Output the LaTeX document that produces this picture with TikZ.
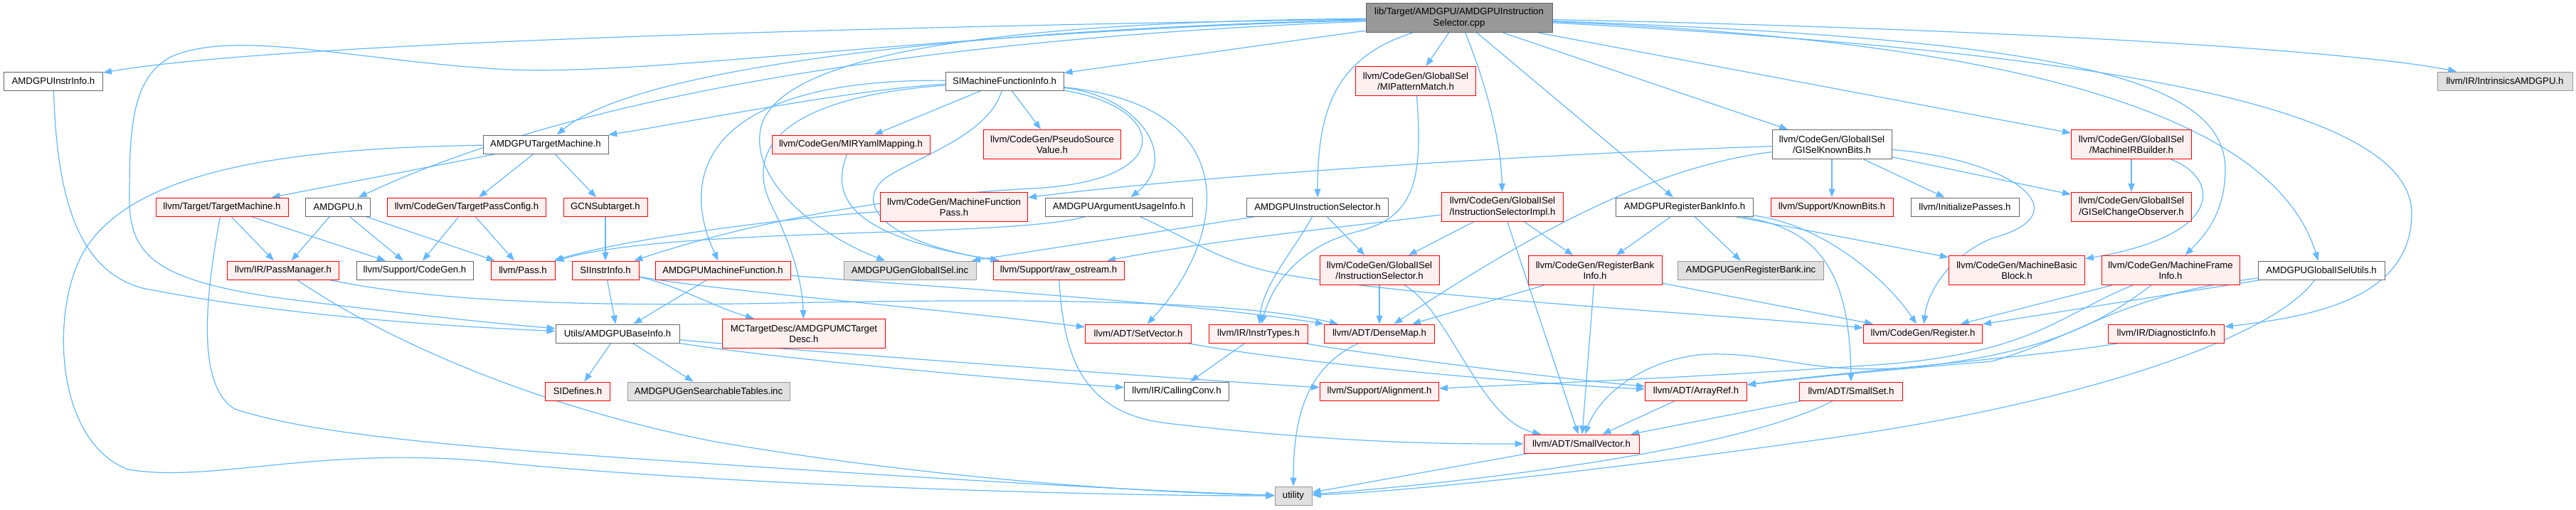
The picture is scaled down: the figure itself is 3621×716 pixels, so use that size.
\documentclass[tikz,border=0pt]{standalone}
\usepackage{fontspec}
\setmainfont{Liberation Sans}
\usetikzlibrary{arrows.meta}
\definecolor{incblue}{HTML}{63B8FF}
\definecolor{truncfill}{HTML}{FFF0F0}
\definecolor{darkline}{HTML}{666666}
\definecolor{sysline}{HTML}{999999}
\definecolor{sysfill}{HTML}{E0E0E0}
\definecolor{srcfill}{HTML}{999999}
\pgfdeclarelayer{links}
\pgfsetlayers{links,main}
\begin{document}
\begin{tikzpicture}[x=1pt,y=-1pt,
  filebox/.style={draw, line width=1pt, inner sep=2pt, minimum height=26,
    align=center, font=\fontsize{13.2}{15.2}\selectfont},
  whitebox/.style={filebox, draw=darkline, fill=white},
  redbox/.style={filebox, draw=red, fill=truncfill},
  sysbox/.style={filebox, draw=sysline, fill=sysfill},
  srcbox/.style={filebox, draw=darkline, fill=srcfill},
  twoline/.style={minimum height=41},
  incl/.style={draw=incblue, line width=1.2pt, -{Triangle[length=12pt,width=9pt]}}]%
% include graph, one px of the reference = 1pt
\global\def\depdraw{\draw[incl]}
\useasboundingbox (0,0) rectangle (3621,716);
\node[srcbox, twoline, minimum width=262] (root) at (2051,25) {lib/Target/AMDGPU/AMDGPUInstruction\\Selector.cpp};
\node[whitebox, minimum width=139] (instrinfo) at (75,114) {AMDGPUInstrInfo.h};
\node[whitebox, minimum width=166] (simfi) at (1412,114) {SIMachineFunctionInfo.h};
\node[redbox, twoline, minimum width=169] (mipat) at (1990,114) {llvm/CodeGen/GlobalISel\\/MIPatternMatch.h};
\node[sysbox, minimum width=190] (intrin) at (3521,114) {llvm/IR/IntrinsicsAMDGPU.h};
\node[whitebox, minimum width=176] (tm) at (767,203) {AMDGPUTargetMachine.h};
\node[redbox, minimum width=222] (miryaml) at (1196,203) {llvm/CodeGen/MIRYamlMapping.h};
\node[redbox, twoline, minimum width=193] (pseudo) at (1479,203) {llvm/CodeGen/PseudoSource\\Value.h};
\node[whitebox, twoline, minimum width=168] (gkb) at (2575,203) {llvm/CodeGen/GlobalISel\\/GISelKnownBits.h};
\node[redbox, twoline, minimum width=169] (mirb) at (2996,203) {llvm/CodeGen/GlobalISel\\/MachineIRBuilder.h};
\node[redbox, minimum width=186] (ttm) at (312,291) {llvm/Target/TargetMachine.h};
\node[whitebox, minimum width=91] (amdgpu) at (475,291) {AMDGPU.h};
\node[redbox, minimum width=223] (tpc) at (656,291) {llvm/CodeGen/TargetPassConfig.h};
\node[redbox, minimum width=118] (gcn) at (851,291) {GCNSubtarget.h};
\node[redbox, twoline, minimum width=207] (mfp) at (1341,291) {llvm/CodeGen/MachineFunction\\Pass.h};
\node[whitebox, minimum width=207] (argusage) at (1573,291) {AMDGPUArgumentUsageInfo.h};
\node[whitebox, minimum width=199] (isel) at (1852,291) {AMDGPUInstructionSelector.h};
\node[redbox, twoline, minimum width=171] (iselimpl) at (2112,291) {llvm/CodeGen/GlobalISel\\/InstructionSelectorImpl.h};
\node[whitebox, minimum width=193] (rbi) at (2368,291) {AMDGPURegisterBankInfo.h};
\node[redbox, minimum width=172] (knownbits) at (2575,291) {llvm/Support/KnownBits.h};
\node[whitebox, minimum width=152] (initpasses) at (2762,291) {llvm/InitializePasses.h};
\node[redbox, twoline, minimum width=169] (gco) at (2996,291) {llvm/CodeGen/GlobalISel\\/GISelChangeObserver.h};
\node[redbox, minimum width=157] (passmgr) at (398,380) {llvm/IR/PassManager.h};
\node[whitebox, minimum width=164] (cgen) at (583,380) {llvm/Support/CodeGen.h};
\node[redbox, minimum width=90] (pass) at (735,380) {llvm/Pass.h};
\node[redbox, minimum width=94] (siinstr) at (851,380) {SIInstrInfo.h};
\node[redbox, minimum width=190] (mfunc) at (1016,380) {AMDGPUMachineFunction.h};
\node[sysbox, minimum width=186] (genglobal) at (1279,380) {AMDGPUGenGlobalISel.inc};
\node[redbox, minimum width=184] (rawos) at (1488,380) {llvm/Support/raw\_ostream.h};
\node[redbox, twoline, minimum width=168] (gisel) at (1939,380) {llvm/CodeGen/GlobalISel\\/InstructionSelector.h};
\node[redbox, twoline, minimum width=188] (cgrbi) at (2242,380) {llvm/CodeGen/RegisterBank\\Info.h};
\node[sysbox, minimum width=205] (genrb) at (2461,380) {AMDGPUGenRegisterBank.inc};
\node[redbox, twoline, minimum width=191] (mbb) at (2835,380) {llvm/CodeGen/MachineBasic\\Block.h};
\node[redbox, twoline, minimum width=194] (mfi) at (3051,380) {llvm/CodeGen/MachineFrame\\Info.h};
\node[whitebox, minimum width=178] (gutils) at (3263,380) {AMDGPUGlobalISelUtils.h};
\node[whitebox, minimum width=174] (baseinfo) at (868,469) {Utils/AMDGPUBaseInfo.h};
\node[redbox, twoline, minimum width=229] (mctd) at (1130,469) {MCTargetDesc/AMDGPUMCTarget\\Desc.h};
\node[redbox, minimum width=149] (setvec) at (1600,469) {llvm/ADT/SetVector.h};
\node[redbox, minimum width=139] (instrtypes) at (1769,469) {llvm/IR/InstrTypes.h};
\node[redbox, minimum width=155] (densemap) at (1939,469) {llvm/ADT/DenseMap.h};
\node[redbox, minimum width=167] (register) at (2703,469) {llvm/CodeGen/Register.h};
\node[redbox, minimum width=163] (diag) at (3045,469) {llvm/IR/DiagnosticInfo.h};
\node[redbox, minimum width=91] (sidefines) at (812,550) {SIDefines.h};
\node[sysbox, minimum width=228] (searchable) at (996,550) {AMDGPUGenSearchableTables.inc};
\node[whitebox, minimum width=147] (callconv) at (1654,550) {llvm/IR/CallingConv.h};
\node[redbox, minimum width=167] (align) at (1939,550) {llvm/Support/Alignment.h};
\node[redbox, minimum width=143] (arrayref) at (2384,550) {llvm/ADT/ArrayRef.h};
\node[redbox, minimum width=145] (smallset) at (2602,550) {llvm/ADT/SmallSet.h};
\node[redbox, minimum width=162] (smallvec) at (2223,624) {llvm/ADT/SmallVector.h};
\node[sysbox, minimum width=52] (utility) at (1818,697) {utility};
\begin{pgfonlayer}{links}
\depdraw (root) .. controls (1400,35) and (420,55) .. (instrinfo);
\depdraw (root) .. controls (1300,45) and (900,110) .. (700,97) .. controls (500,85) and (330,40) .. (240,80) .. controls (185,110) and (182,180) .. (182,280) .. controls (182,360) and (220,395) .. (400,420) .. controls (600,445) and (700,455) .. (baseinfo);
\depdraw (root) .. controls (1400,40) and (900,90) .. (tm);
\depdraw (root) .. controls (1400,50) and (850,115) .. (amdgpu);
\depdraw (root) -- (simfi);
\depdraw (root) -- (mipat);
\depdraw (root) .. controls (1880,80) and (1852,150) .. (isel);
\depdraw (root) .. controls (2090,120) and (2110,200) .. (iselimpl);
\depdraw (root) -- (rbi);
\depdraw (root) -- (gkb);
\depdraw (root) -- (mirb);
\depdraw (root) .. controls (2800,40) and (3300,70) .. (intrin);
\depdraw (root) .. controls (2900,55) and (3130,110) .. (3128,240) .. controls (3127,300) and (3100,330) .. (mfi);
\depdraw (root) .. controls (2900,60) and (3200,180) .. (gutils);
\depdraw (root) .. controls (2900,70) and (3390,140) .. (3390,300) .. controls (3390,420) and (3250,445) .. (diag);
\depdraw (root) .. controls (1500,30) and (1075,60) .. (1068,190) .. controls (1062,260) and (1150,330) .. (genglobal);
\depdraw (instrinfo) .. controls (80,280) and (110,380) .. (200,405) .. controls (400,445) and (650,460) .. (baseinfo);
\depdraw (simfi) .. controls (1200,125) and (950,175) .. (tm);
\depdraw (simfi) .. controls (1000,110) and (950,240) .. (mfunc);
\depdraw (simfi) .. controls (1120,135) and (1040,200) .. (1085,290) .. controls (1115,350) and (1128,400) .. (mctd);
\depdraw (simfi) -- (miryaml);
\depdraw (simfi) -- (pseudo);
\depdraw (simfi) .. controls (1390,190) and (1290,220) .. (1245,250) .. controls (1200,285) and (1240,340) .. (rawos);
\depdraw (simfi) .. controls (1640,150) and (1660,255) .. (1450,265) .. controls (1200,278) and (1000,330) .. (siinstr);
\depdraw (simfi) .. controls (1600,135) and (1660,220) .. (argusage);
\depdraw (simfi) .. controls (1760,150) and (1720,340) .. (setvec);
\depdraw (tm) -- (ttm);
\depdraw (tm) -- (tpc);
\depdraw (tm) -- (gcn);
\depdraw (tm) .. controls (400,208) and (190,240) .. (120,350) .. controls (70,430) and (75,620) .. (180,660) .. controls (300,680) and (450,625) .. (700,650) .. controls (1000,680) and (1500,697) .. (utility);
\depdraw (miryaml) .. controls (1170,270) and (1180,330) .. (rawos);
\depdraw (ttm) -- (passmgr);
\depdraw (ttm) -- (cgen);
\depdraw (ttm) .. controls (292,400) and (272,540) .. (330,575) .. controls (450,615) and (700,632) .. (1000,652) .. controls (1300,672) and (1600,690) .. (utility);
\depdraw (amdgpu) -- (passmgr);
\depdraw (amdgpu) -- (cgen);
\depdraw (amdgpu) -- (pass);
\depdraw (tpc) -- (cgen);
\depdraw (tpc) -- (pass);
\depdraw (gcn) -- (siinstr);
\depdraw (mfp) .. controls (1120,305) and (880,335) .. (pass);
\depdraw (argusage) .. controls (1420,335) and (950,318) .. (pass);
\depdraw (argusage) .. controls (1680,340) and (1720,370) .. (1800,385) .. controls (2000,420) and (2400,440) .. (register);
\depdraw (isel) -- (genglobal);
\depdraw (isel) .. controls (1820,350) and (1775,400) .. (instrtypes);
\depdraw (isel) -- (gisel);
\depdraw (mipat) .. controls (2000,250) and (1990,305) .. (1910,325) .. controls (1830,345) and (1790,395) .. (instrtypes);
\depdraw (iselimpl) -- (gisel);
\depdraw (iselimpl) -- (cgrbi);
\depdraw (iselimpl) -- (smallvec);
\depdraw (iselimpl) .. controls (1900,318) and (1700,338) .. (rawos);
\depdraw (gkb) .. controls (2200,215) and (1700,245) .. (mfp);
\depdraw (gkb) .. controls (2320,235) and (2150,330) .. (densemap);
\depdraw (gkb) -- (knownbits);
\depdraw (gkb) -- (initpasses);
\depdraw (gkb) -- (gco);
\depdraw (gkb) .. controls (2830,225) and (2930,300) .. (2800,335) .. controls (2730,365) and (2708,420) .. (register);
\depdraw (mirb) -- (gco);
\depdraw (mirb) .. controls (3120,250) and (3130,330) .. (mbb);
\depdraw (rbi) -- (cgrbi);
\depdraw (rbi) -- (genrb);
\depdraw (rbi) -- (mbb);
\depdraw (rbi) .. controls (2540,320) and (2600,360) .. (smallset);
\depdraw (rbi) .. controls (2560,315) and (2650,390) .. (register);
\depdraw (cgrbi) -- (densemap);
\depdraw (cgrbi) -- (smallvec);
\depdraw (cgrbi) -- (register);
\depdraw (gisel) -- (densemap);
\depdraw (gisel) .. controls (2040,440) and (2080,590) .. (smallvec);
\depdraw (mfi) -- (register);
\depdraw (mfi) .. controls (2900,440) and (2860,495) .. (2650,512) .. controls (2400,530) and (2150,540) .. (align);
\depdraw (mfi) .. controls (2960,450) and (2880,495) .. (2700,515) .. controls (2550,530) and (2500,495) .. (2400,498) .. controls (2320,502) and (2250,550) .. (smallvec);
\depdraw (gutils) -- (register);
\depdraw (gutils) .. controls (2980,415) and (2930,470) .. (2800,508) .. controls (2650,520) and (2530,532) .. (arrayref);
\depdraw (gutils) .. controls (3200,470) and (2950,560) .. (2600,612) .. controls (2300,655) and (2000,690) .. (utility);
\depdraw (diag) .. controls (2900,498) and (2600,522) .. (arrayref);
\depdraw (passmgr) .. controls (600,422) and (800,432) .. (1100,426) .. controls (1500,418) and (1750,425) .. (densemap);
\depdraw (passmgr) .. controls (500,450) and (700,560) .. (1000,620) .. controls (1300,672) and (1600,692) .. (utility);
\depdraw (mfunc) -- (baseinfo);
\depdraw (mfunc) .. controls (1300,402) and (1700,428) .. (densemap);
\depdraw (siinstr) -- (baseinfo);
\depdraw (siinstr) .. controls (950,400) and (1000,430) .. (mctd);
\depdraw (siinstr) .. controls (1000,408) and (1300,432) .. (setvec);
\depdraw (baseinfo) -- (sidefines);
\depdraw (baseinfo) -- (searchable);
\depdraw (baseinfo) .. controls (1100,505) and (1400,532) .. (callconv);
\depdraw (baseinfo) .. controls (1100,492) and (1650,532) .. (align);
\depdraw (rawos) .. controls (1495,500) and (1520,580) .. (1640,595) .. controls (1900,625) and (2050,624) .. (smallvec);
\depdraw (setvec) .. controls (1800,508) and (2150,540) .. (arrayref);
\depdraw (instrtypes) -- (callconv);
\depdraw (instrtypes) .. controls (1880,492) and (2150,528) .. (arrayref);
\depdraw (densemap) .. controls (1840,515) and (1818,580) .. (utility);
\depdraw (arrayref) -- (smallvec);
\depdraw (smallset) -- (smallvec);
\depdraw (smallset) .. controls (2450,630) and (2100,675) .. (utility);
\depdraw (smallvec) -- (utility);
\end{pgfonlayer}
\end{tikzpicture}
\end{document}
